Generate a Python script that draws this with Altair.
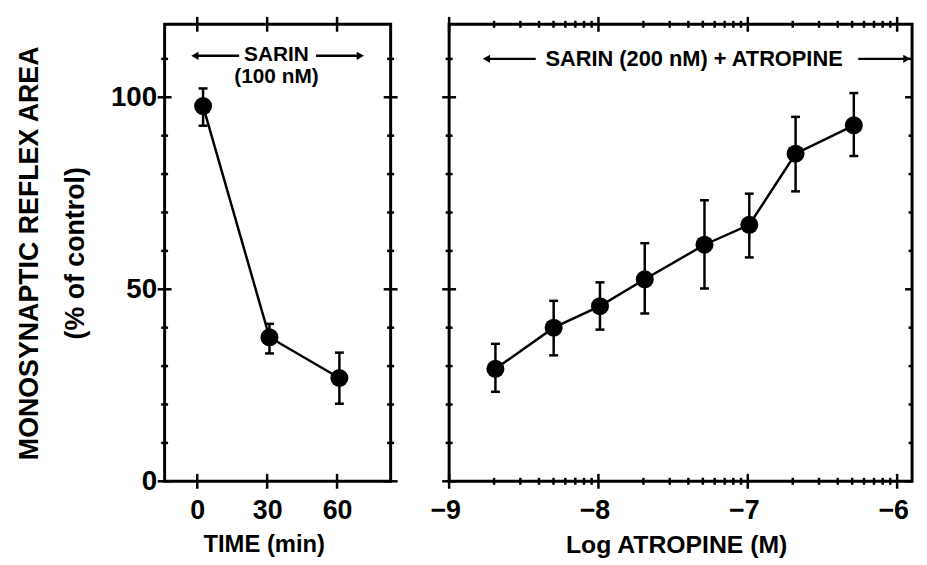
import math
import altair as alt
import pandas as pd

# ---------------- data ----------------
# Left panel: sarin time course
time_min = [2.5, 31, 61]
time_resp = [97.7, 37.5, 26.9]
time_hi = [102.3, 41.0, 33.5]
time_lo = [92.6, 33.3, 20.2]

# Right panel: sarin (200 nM) + atropine
log_atropine = [-8.69, -8.30, -7.99, -7.69, -7.29, -6.99, -6.68, -6.29]
atr_resp = [29.3, 40.0, 45.6, 52.6, 61.6, 66.8, 85.3, 92.7]
atr_hi = [35.8, 47.0, 51.8, 62.0, 73.2, 74.9, 94.9, 101.1]
atr_lo = [23.3, 32.8, 39.5, 43.7, 50.2, 58.3, 75.5, 84.7]

# axis ticks / labels
y_major = [0, 50, 100]
y_minor = [10, 20, 30, 40, 60, 70, 80, 90, 110]
time_major = [0, 30, 60]
log_major = [-9, -8, -7, -6]
log_minor = [d + math.log10(k) for d in (-9, -8, -7) for k in range(2, 10)]

y_dom = [0, 119]
time_dom = [-14, 83]
log_dom = [-9, -5.9]

# annotations
left_text = ["SARIN", "(100 nM)"]
left_text_x = [34, 34]
left_text_y = [111, 105.3]
left_arrow_x = [-1, 51]
left_arrow_x2 = [18, 70]
left_arrow_y = 110.8
right_text = ["SARIN (200 nM) + ATROPINE"]
right_text_x = [-7.36]
right_text_y = [110]
right_arrow_x = [-8.75, -6.26]
right_arrow_x2 = [-8.42, -5.935]
right_arrow_y = 110

FONT = "Liberation Sans"
LW = 2.5

YS = alt.Scale(domain=y_dom, nice=False, zero=False)


def xs(dom):
    return alt.Scale(domain=dom, nice=False, zero=False)


class Panel:
    def __init__(self, xdom, xaxis, yaxis, clip_right=False):
        self.xdom = xdom
        self.xaxis = xaxis
        self.yaxis = yaxis
        self.clip_right = clip_right

    def X(self, field):
        return alt.X(field, type="quantitative", scale=xs(self.xdom), axis=self.xaxis)

    def Y(self, field):
        return alt.Y(field, type="quantitative", scale=YS, axis=self.yaxis)


def tick_layer(p, rows, orient, size, xoff=0):
    return (
        alt.Chart(pd.DataFrame(rows))
        .mark_tick(orient=orient, size=size, thickness=LW, color="black", opacity=1, xOffset=xoff)
        .encode(x=p.X("x"), y=p.Y("y"))
    )


def frame_ticks(p, xmaj, xmin):
    layers = []
    for vals, size in ((xmaj, 15), (xmin, 7)):
        if vals:
            rows = [{"x": v, "y": yv} for v in vals for yv in y_dom]
            layers.append(tick_layer(p, rows, "vertical", size))
    for vals, size in ((y_major, 14), (y_minor, 7)):
        left_rows = [{"x": p.xdom[0], "y": v} for v in vals]
        right_rows = [{"x": p.xdom[1], "y": v} for v in vals]
        layers.append(tick_layer(p, left_rows, "horizontal", size))
        if p.clip_right:
            # only the inward half on the outer right edge
            layers.append(tick_layer(p, right_rows, "horizontal", size / 2, -size / 4))
        else:
            layers.append(tick_layer(p, right_rows, "horizontal", size))
    return layers


def data_layers(p, df):
    base = alt.Chart(df)
    line = base.mark_line(color="black", strokeWidth=LW).encode(x=p.X("x"), y=p.Y("y"))
    err = base.mark_rule(color="black", strokeWidth=LW).encode(
        x=p.X("x"), y=p.Y("lo"), y2="hi:Q"
    )
    cap_lo = base.mark_tick(orient="horizontal", size=9, thickness=LW, color="black", opacity=1).encode(
        x=p.X("x"), y=p.Y("lo")
    )
    cap_hi = base.mark_tick(orient="horizontal", size=9, thickness=LW, color="black", opacity=1).encode(
        x=p.X("x"), y=p.Y("hi")
    )
    pts = base.mark_circle(size=330, color="black", opacity=1).encode(x=p.X("x"), y=p.Y("y"))
    return [line, err, cap_lo, cap_hi, pts]


def annotation_layers(p, texts, tx, ty, ax, ax2, ay, fsize):
    tdf = pd.DataFrame({"t": texts, "x": tx, "y": ty})
    txt = alt.Chart(tdf).mark_text(
        font=FONT, fontWeight="bold", fontSize=fsize, color="black"
    ).encode(x=p.X("x"), y=p.Y("y"), text="t:N")
    adf = pd.DataFrame({"x": ax, "x2": ax2, "y": [ay] * len(ax)})
    rules = alt.Chart(adf).mark_rule(color="black", strokeWidth=LW).encode(
        x=p.X("x"), x2="x2:Q", y=p.Y("y")
    )
    heads_df = pd.DataFrame(
        {"x": [ax[0], ax2[-1]], "y": [ay, ay], "s": ["triangle-left", "triangle-right"]}
    )
    heads = alt.Chart(heads_df).mark_point(
        filled=True, size=70, color="black", opacity=1
    ).encode(
        x=p.X("x"), y=p.Y("y"),
        shape=alt.Shape("s:N", scale=None, legend=None),
    )
    return [rules, heads, txt]


left_df = pd.DataFrame({"x": time_min, "y": time_resp, "lo": time_lo, "hi": time_hi})
right_df = pd.DataFrame({"x": log_atropine, "y": atr_resp, "lo": atr_lo, "hi": atr_hi})

axis_common = dict(
    ticks=False,
    tickSize=0,
    domain=False,
    grid=False,
    labelFlush=False,
    labelFont=FONT,
    labelFontWeight="bold",
    labelColor="black",
    titleFont=FONT,
    titleFontWeight="bold",
    titleColor="black",
)

left_x_axis = alt.Axis(
    values=time_major, title="TIME (min)", labelPadding=17, titlePadding=9,
    labelFontSize=27, titleFontSize=24, titleX=100, **axis_common
)
left_y_axis = alt.Axis(
    values=y_major, title=["MONOSYNAPTIC REFLEX AREA", "(% of control)"],
    labelPadding=8, titlePadding=21, labelFontSize=28, titleFontSize=27,
    titleLineHeight=47, **axis_common
)
right_x_axis = alt.Axis(
    values=log_major, title="Log ATROPINE (M)", labelPadding=17, titlePadding=9,
    labelFontSize=27, titleFontSize=25, format="d", labelOffset=-4, titleX=229,
    **axis_common
)

pl = Panel(time_dom, left_x_axis, left_y_axis)
pr = Panel(log_dom, right_x_axis, None, clip_right=True)

left = alt.layer(
    *data_layers(pl, left_df),
    *frame_ticks(pl, time_major, []),
    *annotation_layers(pl, left_text, left_text_x, left_text_y, left_arrow_x, left_arrow_x2,
                       left_arrow_y, 21),
).properties(width=228, height=461)

right = alt.layer(
    *data_layers(pr, right_df),
    *frame_ticks(pr, log_major, log_minor),
    *annotation_layers(pr, right_text, right_text_x, right_text_y, right_arrow_x, right_arrow_x2,
                       right_arrow_y, 22),
).properties(width=467, height=461)

chart = (
    alt.hconcat(left, right, spacing=59, bounds="flush")
    .configure(background="white")
    .configure_view(stroke="black", strokeWidth=3)
)

chart.save("out.html", embed_options={"renderer": "svg", "actions": False})
